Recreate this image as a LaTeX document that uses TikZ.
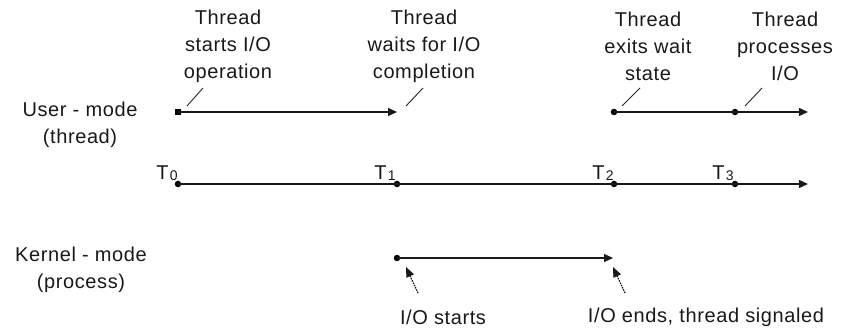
\documentclass[tikz,border=0pt]{standalone}
\usepackage{fontspec}
\setmainfont[LetterSpace=3]{Liberation Sans}
\usetikzlibrary{arrows.meta}
\begin{document}
\begin{tikzpicture}[x=1pt,y=-1pt,
  lbl/.style={font=\fontsize{20}{27}\selectfont, align=center, inner sep=0pt, text=black!90},
  tl/.style={line width=1.4pt, draw=black!90},
  arr/.style={-{Triangle[length=9pt,width=8pt]}},
  dotpt/.style={circle, fill=black, inner sep=0pt, minimum size=6.5pt},
  sqpt/.style={rectangle, fill=black, inner sep=0pt, minimum size=6.5pt},
  tick/.style={line width=0.9pt, draw=black!85},
  ptr/.style={line width=1.3pt, dash pattern=on 1.5pt off 1pt, draw=black!90, -{Triangle[length=10pt,width=8pt]}},
  tlabel/.style={font=\fontsize{20}{20}\selectfont, inner sep=0pt, anchor=base, text=black!90}
]
\newcommand{\tsub}[1]{T\kern1.5pt\raisebox{-0.5pt}{\fontsize{14}{14}\selectfont #1}}
\useasboundingbox (0,0) rectangle (849,328);

% user-mode line
\node[sqpt] (u0) at (178,112) {};
\coordinate (u1) at (397,112);
\node[dotpt] (u2) at (614,112) {};
\node[dotpt] (u3) at (735,112) {};
\coordinate (u4) at (808,112);
\draw[tl,arr] (u0.center) -- (u1);
\draw[tl] (u2.center) -- (u3.center);
\draw[tl,arr] (u3.center) -- (u4);

% time line
\node[dotpt] (t0) at (178,184) {};
\node[dotpt] (t1) at (397,184) {};
\node[dotpt] (t2) at (614,184) {};
\node[dotpt] (t3) at (735,184) {};
\coordinate (t4) at (808,184);
\draw[tl] (t0.center) -- (t1.center) -- (t2.center) -- (t3.center);
\draw[tl,arr] (t3.center) -- (t4);

\node[tlabel] (T0) at (167,180) {\tsub{0}};
\node[tlabel] (T1) at (385,180) {\tsub{1}};
\node[tlabel] (T2) at (603,180) {\tsub{2}};
\node[tlabel] (T3) at (723,180) {\tsub{3}};

% kernel-mode line
\node[dotpt] (k0) at (397,258) {};
\coordinate (k1) at (613,258);
\draw[tl,arr] (k0.center) -- (k1);

% row labels
\node[lbl] (um) at (80,125) {User - mode\\(thread)};
\node[lbl] (km) at (81,270) {Kernel - mode\\(process)};

% top labels
\node[lbl] (a1) at (228,46) {Thread\\starts I/O\\operation};
\node[lbl] (a2) at (424,46) {Thread\\waits for I/O\\completion};
\node[lbl] (a3) at (648,46) {Thread\\exits wait\\state};
\node[lbl] (a4) at (785,46) {Thread\\processes\\I/O};

% leader ticks
\coordinate (s1a) at (187,106); \coordinate (s1b) at (203,88);
\coordinate (s2a) at (406,106); \coordinate (s2b) at (423,88);
\coordinate (s3a) at (622,106); \coordinate (s3b) at (640,88);
\coordinate (s4a) at (745,106); \coordinate (s4b) at (762,88);
\draw[tick] (s1a) -- (s1b);
\draw[tick] (s2a) -- (s2b);
\draw[tick] (s3a) -- (s3b);
\draw[tick] (s4a) -- (s4b);

% bottom labels and pointers
\node[lbl] (b1) at (443,317) {I/O starts};
\node[lbl] (b2) at (706,317) {I/O ends, thread signaled};
\coordinate (p1a) at (418,293); \coordinate (p1b) at (406,267);
\coordinate (p2a) at (625,293); \coordinate (p2b) at (613,267);
\draw[ptr] (p1a) -- (p1b);
\draw[ptr] (p2a) -- (p2b);
\end{tikzpicture}
\end{document}
